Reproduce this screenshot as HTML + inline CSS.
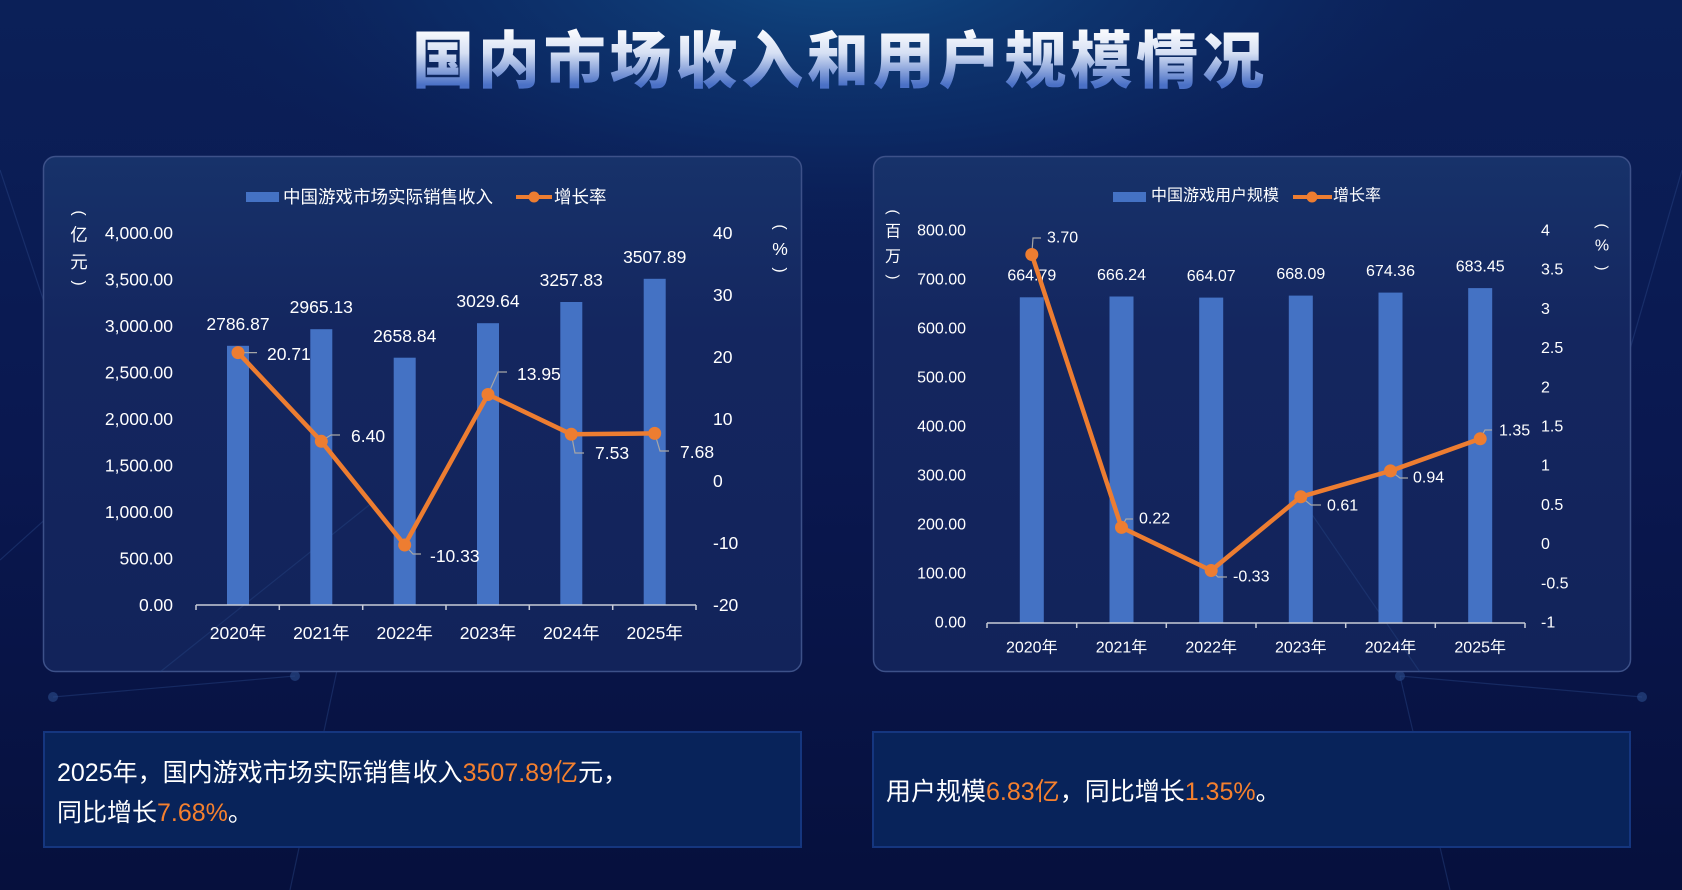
<!DOCTYPE html>
<html><head><meta charset="utf-8"><style>
html,body{margin:0;padding:0;background:#081548;}
svg{display:block;}
text{font-family:"Liberation Sans","Noto Sans CJK SC",sans-serif;}
</style></head><body>
<svg width="1682" height="890" viewBox="0 0 1682 890" xmlns="http://www.w3.org/2000/svg">
<defs>
<linearGradient id="bg" x1="0" y1="0" x2="0" y2="1">
<stop offset="0" stop-color="#0b2058"/><stop offset="0.5" stop-color="#0a1850"/><stop offset="1" stop-color="#06103d"/>
</linearGradient>
<radialGradient id="glow" cx="841" cy="-40" r="700" gradientUnits="userSpaceOnUse" gradientTransform="translate(841 -40) scale(1 0.42) translate(-841 40)">
<stop offset="0" stop-color="#11508a" stop-opacity="0.95"/><stop offset="0.6" stop-color="#0d3470" stop-opacity="0.5"/><stop offset="1" stop-color="#0b2058" stop-opacity="0"/>
</radialGradient>
<linearGradient id="panel" x1="0" y1="0" x2="0" y2="1">
<stop offset="0" stop-color="#17326a"/><stop offset="0.35" stop-color="#14265f"/><stop offset="1" stop-color="#12235a"/>
</linearGradient>
<linearGradient id="title" x1="0" y1="27" x2="0" y2="85" gradientUnits="userSpaceOnUse">
<stop offset="0" stop-color="#ffffff"/><stop offset="0.45" stop-color="#d6e0f4"/><stop offset="1" stop-color="#4a70c6"/>
</linearGradient>
</defs>
<rect width="1682" height="890" fill="url(#bg)"/>
<rect width="1682" height="890" fill="url(#glow)"/>

<!-- decorative lines -->
<g stroke="#2c4c8c" stroke-opacity="0.4" stroke-width="1.2" fill="none">
<line x1="53" y1="697" x2="295" y2="676"/>
<line x1="1400" y1="676" x2="1642" y2="697"/>
<line x1="0" y1="170" x2="100" y2="470"/>
<line x1="1682" y1="170" x2="1595" y2="470"/>
<line x1="373" y1="502" x2="290" y2="890"/>
<line x1="1400" y1="676" x2="1450" y2="890"/>
<line x1="100" y1="470" x2="0" y2="560"/>
</g>
<g fill="#2c4c8c" fill-opacity="0.6">
<circle cx="53" cy="697" r="5"/><circle cx="295" cy="676" r="5"/><circle cx="1400" cy="676" r="5"/><circle cx="1642" cy="697" r="5"/><circle cx="100" cy="470" r="5"/><circle cx="1595" cy="470" r="5"/>
</g>

<!-- title -->
<text x="412" y="55.5" textLength="852" lengthAdjust="spacing" font-size="62" font-weight="900" fill="url(#title)" dominant-baseline="central" style='font-family:"Noto Sans CJK SC","WenQuanYi Zen Hei",sans-serif'>国内市场收入和用户规模情况</text>

<!-- panels -->
<rect x="43.5" y="156.5" width="758" height="515" rx="12" fill="url(#panel)" stroke="#3d5189" stroke-width="1.5"/>
<rect x="873.5" y="156.5" width="757" height="515" rx="12" fill="url(#panel)" stroke="#3d5189" stroke-width="1.5"/>
<g stroke="#2c4c8c" stroke-opacity="0.35" stroke-width="1.2"><line x1="373" y1="502" x2="160" y2="672"/><line x1="1300" y1="497" x2="1420" y2="672"/></g>

<!-- ================= LEFT CHART ================= -->
<g font-size="17.5" fill="#ffffff">
<rect x="246" y="192" width="33" height="10" fill="#4472c4"/>
<text x="283" y="197" dominant-baseline="central">中国游戏市场实际销售收入</text>
<line x1="516" y1="197" x2="552" y2="197" stroke="#ed7d31" stroke-width="4"/>
<circle cx="534" cy="197" r="5.5" fill="#ed7d31"/>
<text x="554" y="197" dominant-baseline="central">增长率</text>

<text x="79" y="213" font-size="16" text-anchor="middle" dominant-baseline="central" transform="rotate(90 79 213)">(</text>
<text x="79" y="235" text-anchor="middle" dominant-baseline="central">亿</text>
<text x="79" y="262" text-anchor="middle" dominant-baseline="central">元</text>
<text x="79" y="283" font-size="16" text-anchor="middle" dominant-baseline="central" transform="rotate(90 79 283)">)</text>

<text x="780" y="227" font-size="16" text-anchor="middle" dominant-baseline="central" transform="rotate(90 780 227)">(</text>
<text x="780" y="249" text-anchor="middle" dominant-baseline="central">%</text>
<text x="780" y="270" font-size="16" text-anchor="middle" dominant-baseline="central" transform="rotate(90 780 270)">)</text>

<g text-anchor="end" dominant-baseline="central">
<text x="173" y="233">4,000.00</text>
<text x="173" y="279.5">3,500.00</text>
<text x="173" y="326">3,000.00</text>
<text x="173" y="372.5">2,500.00</text>
<text x="173" y="419">2,000.00</text>
<text x="173" y="465.5">1,500.00</text>
<text x="173" y="512">1,000.00</text>
<text x="173" y="558.5">500.00</text>
<text x="173" y="605">0.00</text>
</g>
<g dominant-baseline="central">
<text x="713" y="233">40</text>
<text x="713" y="295">30</text>
<text x="713" y="357">20</text>
<text x="713" y="419">10</text>
<text x="713" y="481">0</text>
<text x="713" y="543">-10</text>
<text x="713" y="605">-20</text>
</g>

<g fill="#4472c4">
<rect x="227" y="345.8" width="22" height="259.2"/>
<rect x="310.3" y="329.2" width="22" height="275.8"/>
<rect x="393.7" y="357.7" width="22" height="247.3"/>
<rect x="477" y="323.2" width="22" height="281.8"/>
<rect x="560.3" y="302" width="22" height="303"/>
<rect x="643.7" y="278.8" width="22" height="326.2"/>
</g>
<g text-anchor="middle" dominant-baseline="central">
<text x="238" y="324">2786.87</text>
<text x="321.3" y="307">2965.13</text>
<text x="404.7" y="336">2658.84</text>
<text x="488" y="301">3029.64</text>
<text x="571.3" y="280">3257.83</text>
<text x="654.7" y="257">3507.89</text>
</g>

<g stroke="#c8ccd8" stroke-width="1.5" fill="none">
<line x1="196" y1="605" x2="696" y2="605"/>
<line x1="196" y1="605" x2="196" y2="610"/>
<line x1="279.3" y1="605" x2="279.3" y2="610"/>
<line x1="362.7" y1="605" x2="362.7" y2="610"/>
<line x1="446" y1="605" x2="446" y2="610"/>
<line x1="529.3" y1="605" x2="529.3" y2="610"/>
<line x1="612.7" y1="605" x2="612.7" y2="610"/>
<line x1="696" y1="605" x2="696" y2="610"/>
</g>
<g text-anchor="middle" dominant-baseline="central">
<text x="238" y="633">2020年</text>
<text x="321.3" y="633">2021年</text>
<text x="404.7" y="633">2022年</text>
<text x="488" y="633">2023年</text>
<text x="571.3" y="633">2024年</text>
<text x="654.7" y="633">2025年</text>
</g>

<g stroke="#a6a6a6" stroke-width="1.2" fill="none">
<polyline points="238,352.6 257,352.6"/>
<polyline points="321.3,441 331,435 340,435"/>
<polyline points="404.7,545 413,554 421,554"/>
<polyline points="488,394.5 498,372 507,372"/>
<polyline points="571.3,434 575,453 584,453"/>
<polyline points="654.7,433 660,451 669,451"/>
</g>
<polyline points="238,352.6 321.3,441.3 404.7,545 488,394.5 571.3,434.3 654.7,433.4" fill="none" stroke="#ed7d31" stroke-width="4.5" stroke-linejoin="round"/>
<g fill="#ed7d31">
<circle cx="238" cy="352.6" r="6.5"/><circle cx="321.3" cy="441.3" r="6.5"/><circle cx="404.7" cy="545" r="6.5"/><circle cx="488" cy="394.5" r="6.5"/><circle cx="571.3" cy="434.3" r="6.5"/><circle cx="654.7" cy="433.4" r="6.5"/>
</g>
<g dominant-baseline="central">
<text x="267" y="354">20.71</text>
<text x="351" y="436">6.40</text>
<text x="430" y="556">-10.33</text>
<text x="517" y="374">13.95</text>
<text x="595" y="453">7.53</text>
<text x="680" y="452">7.68</text>
</g>
</g>

<!-- ================= RIGHT CHART ================= -->
<g font-size="16" fill="#ffffff">
<rect x="1113" y="192" width="33" height="10" fill="#4472c4"/>
<text x="1151" y="196" dominant-baseline="central">中国游戏用户规模</text>
<line x1="1293" y1="197" x2="1332" y2="197" stroke="#ed7d31" stroke-width="4"/>
<circle cx="1312" cy="197" r="5.5" fill="#ed7d31"/>
<text x="1333" y="196" dominant-baseline="central">增长率</text>

<text x="893" y="212" font-size="15" text-anchor="middle" dominant-baseline="central" transform="rotate(90 893 212)">(</text>
<text x="893" y="232" text-anchor="middle" dominant-baseline="central">百</text>
<text x="893" y="257" text-anchor="middle" dominant-baseline="central">万</text>
<text x="893" y="277" font-size="15" text-anchor="middle" dominant-baseline="central" transform="rotate(90 893 277)">)</text>

<text x="1602" y="226" font-size="15" text-anchor="middle" dominant-baseline="central" transform="rotate(90 1602 226)">(</text>
<text x="1602" y="246" text-anchor="middle" dominant-baseline="central">%</text>
<text x="1602" y="268" font-size="15" text-anchor="middle" dominant-baseline="central" transform="rotate(90 1602 268)">)</text>

<g text-anchor="end" dominant-baseline="central">
<text x="966" y="231">800.00</text>
<text x="966" y="280">700.00</text>
<text x="966" y="329">600.00</text>
<text x="966" y="378">500.00</text>
<text x="966" y="427">400.00</text>
<text x="966" y="476">300.00</text>
<text x="966" y="525">200.00</text>
<text x="966" y="574">100.00</text>
<text x="966" y="623">0.00</text>
</g>
<g dominant-baseline="central">
<text x="1541" y="231">4</text>
<text x="1541" y="270.2">3.5</text>
<text x="1541" y="309.4">3</text>
<text x="1541" y="348.6">2.5</text>
<text x="1541" y="387.8">2</text>
<text x="1541" y="427">1.5</text>
<text x="1541" y="466.2">1</text>
<text x="1541" y="505.4">0.5</text>
<text x="1541" y="544.6">0</text>
<text x="1541" y="583.8">-0.5</text>
<text x="1541" y="623">-1</text>
</g>

<g fill="#4472c4">
<rect x="1019.8" y="297.3" width="24" height="325.7"/>
<rect x="1109.5" y="296.5" width="24" height="326.5"/>
<rect x="1199.2" y="297.6" width="24" height="325.4"/>
<rect x="1288.8" y="295.6" width="24" height="327.4"/>
<rect x="1378.5" y="292.6" width="24" height="330.4"/>
<rect x="1468.2" y="288.1" width="24" height="334.9"/>
</g>
<g text-anchor="middle" dominant-baseline="central">
<text x="1031.8" y="276">664.79</text>
<text x="1121.5" y="275.5">666.24</text>
<text x="1211.2" y="276.5">664.07</text>
<text x="1300.8" y="274.5">668.09</text>
<text x="1390.5" y="271.5">674.36</text>
<text x="1480.2" y="267">683.45</text>
</g>

<g stroke="#c8ccd8" stroke-width="1.5" fill="none">
<line x1="987" y1="623" x2="1525" y2="623"/>
<line x1="987" y1="623" x2="987" y2="628"/>
<line x1="1076.7" y1="623" x2="1076.7" y2="628"/>
<line x1="1166.3" y1="623" x2="1166.3" y2="628"/>
<line x1="1256" y1="623" x2="1256" y2="628"/>
<line x1="1345.7" y1="623" x2="1345.7" y2="628"/>
<line x1="1435.3" y1="623" x2="1435.3" y2="628"/>
<line x1="1525" y1="623" x2="1525" y2="628"/>
</g>
<g text-anchor="middle" dominant-baseline="central">
<text x="1031.8" y="648">2020年</text>
<text x="1121.5" y="648">2021年</text>
<text x="1211.2" y="648">2022年</text>
<text x="1300.8" y="648">2023年</text>
<text x="1390.5" y="648">2024年</text>
<text x="1480.2" y="648">2025年</text>
</g>

<g stroke="#a6a6a6" stroke-width="1.2" fill="none">
<polyline points="1031.8,254.5 1033,238 1041,238"/>
<polyline points="1121.5,527.4 1126,519 1133,519"/>
<polyline points="1211.2,570.5 1218,577 1227,577"/>
<polyline points="1300.8,496.8 1311,505 1321,505"/>
<polyline points="1390.5,470.9 1400,478 1408,478"/>
<polyline points="1480.2,438.8 1485,430 1492,430"/>
</g>
<polyline points="1031.8,254.5 1121.5,527.4 1211.2,570.5 1300.8,496.8 1390.5,470.9 1480.2,438.8" fill="none" stroke="#ed7d31" stroke-width="4.5" stroke-linejoin="round"/>
<g fill="#ed7d31">
<circle cx="1031.8" cy="254.5" r="6.5"/><circle cx="1121.5" cy="527.4" r="6.5"/><circle cx="1211.2" cy="570.5" r="6.5"/><circle cx="1300.8" cy="496.8" r="6.5"/><circle cx="1390.5" cy="470.9" r="6.5"/><circle cx="1480.2" cy="438.8" r="6.5"/>
</g>
<g dominant-baseline="central">
<text x="1047" y="238">3.70</text>
<text x="1139" y="519">0.22</text>
<text x="1233" y="577">-0.33</text>
<text x="1327" y="506">0.61</text>
<text x="1413" y="478">0.94</text>
<text x="1499" y="431">1.35</text>
</g>
</g>

<!-- bottom boxes -->
<rect x="44" y="732" width="757" height="115" fill="#08235a" stroke="#15367f" stroke-width="2"/>
<rect x="873" y="732" width="757" height="115" fill="#08235a" stroke="#15367f" stroke-width="2"/>
<g font-size="25" fill="#ffffff" dominant-baseline="central">
<text x="57" y="773">2025年，国内游戏市场实际销售收入<tspan fill="#f5802e">3507.89亿</tspan>元，</text>
<text x="57" y="813">同比增长<tspan fill="#f5802e">7.68%</tspan>。</text>
<text x="886" y="792">用户规模<tspan fill="#f5802e">6.83亿</tspan>，同比增长<tspan fill="#f5802e">1.35%</tspan>。</text>
</g>
</svg>
</body></html>
